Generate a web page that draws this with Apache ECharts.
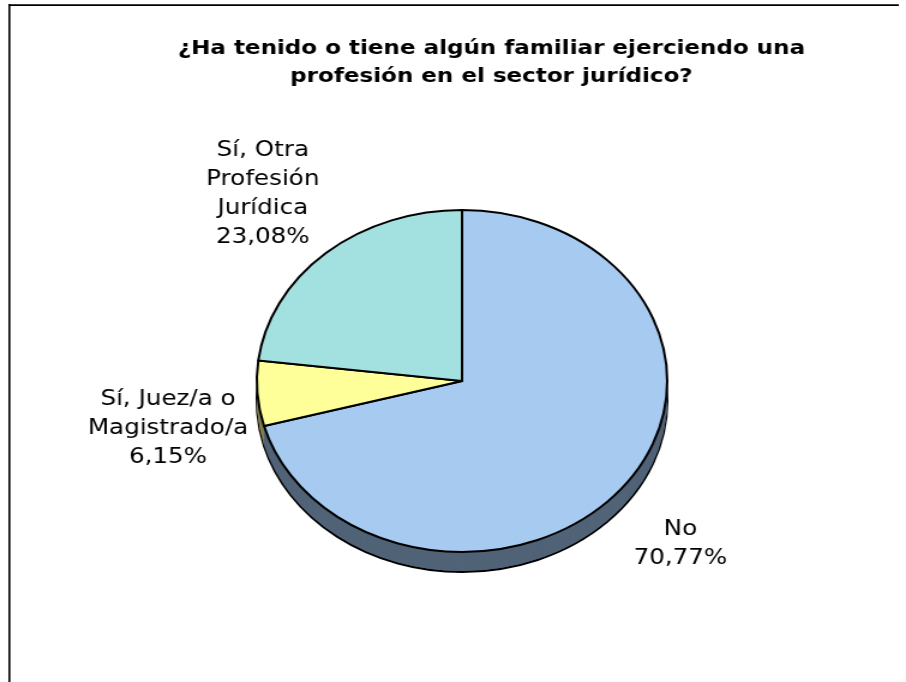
<!DOCTYPE html>
<html>
<head>
<meta charset="utf-8">
<script src="https://cdn.jsdelivr.net/npm/echarts@6/dist/echarts.min.js"></script>
<style>
  html, body { margin: 0; padding: 0; background: #ffffff; overflow: hidden; }
  #wrap { width: 906px; height: 682px; overflow: hidden; }
  /* chart is laid out at 755px and widened to the full 906px frame */
  #chart { width: 755px; height: 682px; transform: scaleX(1.2); transform-origin: 0 0; }
</style>
</head>
<body>
<div id="wrap"><div id="chart"></div></div>
<script>
// ---- data ----
const titleLines = ['¿Ha tenido o tiene algún familiar ejerciendo una', 'profesión en el sector jurídico?'];
const categories = ['No', 'Sí, Juez/a o Magistrado/a', 'Sí, Otra Profesión Jurídica'];
const labelLines = [['No'], ['Sí, Juez/a o', 'Magistrado/a'], ['Sí, Otra', 'Profesión', 'Jurídica']];
const values = [70.77, 6.15, 23.08];

// ---- styling ----
const topColors = ['#A6CAF0', '#FFFF99', '#A3E0E0'];
const sideColors = ['#516377', '#7F7F4F', '#527070'];
const center = [385, 381];
const radius = 171;
const depth = 20;

const fmt = v => v.toFixed(2).replace('.', ',') + '%';

function pieData(colors) {
  return categories.map((name, i) => ({ name: name, value: values[i], itemStyle: { color: colors[i] } }));
}

const series = [];
// base of the extruded pie, outlined
series.push({
  type: 'pie', silent: true, animation: false,
  center: [center[0], center[1] + depth], radius: radius,
  startAngle: 90, clockwise: true,
  label: { show: false }, labelLine: { show: false },
  itemStyle: { borderColor: '#000', borderWidth: 2 },
  data: pieData(sideColors)
});
// side walls
for (let d = depth - 1; d >= 1; d--) {
  series.push({
    type: 'pie', silent: true, animation: false,
    center: [center[0], center[1] + d], radius: radius,
    startAngle: 90, clockwise: true,
    label: { show: false }, labelLine: { show: false },
    itemStyle: { borderWidth: 0 },
    data: pieData(sideColors)
  });
}
// top face
series.push({
  type: 'pie', silent: true, animation: false,
  center: center, radius: radius,
  startAngle: 90, clockwise: true,
  label: { show: false }, labelLine: { show: false },
  itemStyle: { borderColor: '#000', borderWidth: 2 },
  data: pieData(topColors)
});

// slice labels
const labelPos = [[567, 544], [140, 429], [219, 194]];
const labelFont = '20.5px "DejaVu Sans", Verdana, sans-serif';
const labels = categories.map((c, i) => ({
  type: 'text', silent: true,
  x: labelPos[i][0], y: labelPos[i][1],
  style: {
    text: labelLines[i].concat([fmt(values[i])]).join('\n'),
    font: labelFont, fill: '#000', align: 'center', verticalAlign: 'middle', lineHeight: 29
  }
}));

const chart = echarts.init(document.getElementById('chart'), null, { renderer: 'canvas' });
chart.setOption({
  backgroundColor: '#ffffff',
  animation: false,
  series: series,
  graphic: [
    // frame edges (left and top)
    {
      type: 'rect', silent: true,
      shape: { x: 7, y: 4, width: 1.6, height: 690 },
      style: { fill: '#000' }
    },
    {
      type: 'rect', silent: true,
      shape: { x: 7, y: 4.2, width: 742, height: 1.7 },
      style: { fill: '#000' }
    },
    {
      type: 'text', silent: true, x: 409.5, y: 63,
      style: {
        text: titleLines.join('\n'),
        font: 'bold 19.2px "DejaVu Sans", Verdana, sans-serif',
        fill: '#000', align: 'center', verticalAlign: 'middle', lineHeight: 28
      }
    }
  ].concat(labels)
});
</script>
</body>
</html>
